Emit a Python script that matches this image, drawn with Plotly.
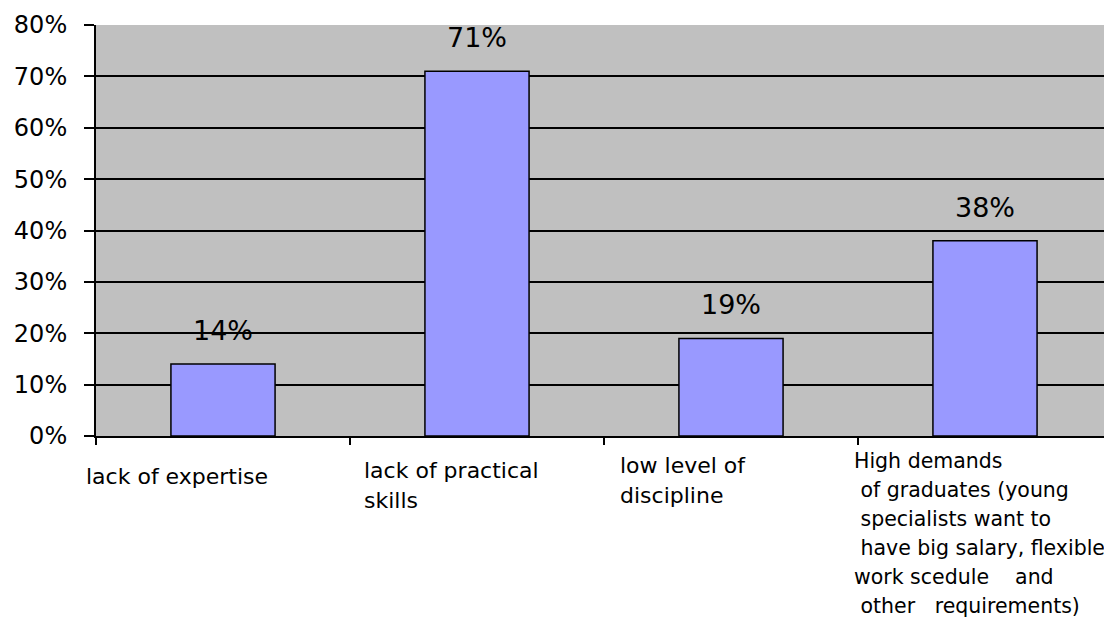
import plotly.graph_objects as go

categories = [
    "lack of expertise",
    "lack of practical\nskills",
    "low level of\ndiscipline",
    "High demands\n of graduates (young\n specialists want to\n have big salary, flexible\nwork scedule    and\n other   requirements)",
]
values = [0.14, 0.71, 0.19, 0.38]
value_labels = ["14%", "71%", "19%", "38%"]
y_tickvals = [0, 0.1, 0.2, 0.3, 0.4, 0.5, 0.6, 0.7, 0.8]
y_ticktext = ["0%", "10%", "20%", "30%", "40%", "50%", "60%", "70%", "80%"]

FONT = "DejaVu Sans"
idx = list(range(len(categories)))

fig = go.Figure()
fig.add_trace(go.Bar(
    x=idx, y=values, width=0.41,
    marker=dict(color="#9999FF", line=dict(color="#000000", width=1.5)),
    hoverinfo="skip",
))

def fmt(line):
    stripped = line.lstrip(" ")
    lead = len(line) - len(stripped)
    return "\u00a0" * lead + stripped.replace(" ", "\u00a0")

label_xshift = [-12, 12, 14, -6]
label_yshift = [-26, -20, -15, -11]
label_size = [22, 22, 22, 20.5]
line_gap = [30, 30, 30, 29]
for i, c in enumerate(categories):
    for j, line in enumerate(c.split("\n")):
        fig.add_annotation(
            x=i - 0.5, y=0, xref="x", yref="paper",
            text=fmt(line), showarrow=False, align="left",
            xanchor="left", yanchor="top",
            xshift=label_xshift[i], yshift=label_yshift[i] - j * line_gap[i],
            font=dict(family=FONT, size=label_size[i], color="#000000"),
        )

for i, (v, t) in enumerate(zip(values, value_labels)):
    fig.add_annotation(
        x=i, y=v, xref="x", yref="y", text=t, showarrow=False,
        xanchor="center", yanchor="bottom", yshift=16,
        font=dict(family=FONT, size=27, color="#000000"),
    )

# page body adds an 8px offset, so the figure is sized to end at the window edge
fig.update_layout(
    width=1104, height=614,
    margin=dict(l=88, r=0, t=17, b=186),
    paper_bgcolor="#FFFFFF", plot_bgcolor="#C0C0C0",
    showlegend=False,
    font=dict(family=FONT, color="#000000"),
)
fig.update_xaxes(
    range=[-0.5, 3.5], tickvals=[-0.5, 0.5, 1.5, 2.5], showticklabels=False,
    ticks="outside", ticklen=7, tickwidth=2, tickcolor="#000000",
    showgrid=False, zeroline=False,
    showline=True, linecolor="#000000", linewidth=2,
)
fig.update_yaxes(
    range=[0, 0.8], tickvals=y_tickvals, ticktext=y_ticktext,
    ticks="outside", ticklen=10, tickwidth=2, tickcolor="#000000",
    tickfont=dict(family=FONT, size=24, color="#000000"),
    ticklabelstandoff=12,
    showgrid=False,
    minor=dict(tickvals=y_tickvals[1:-1], showgrid=True, gridcolor="#000000",
               gridwidth=2, ticks=""),
    zeroline=False,
    showline=True, linecolor="#000000", linewidth=2,
)

fig.write_html("out.html")
